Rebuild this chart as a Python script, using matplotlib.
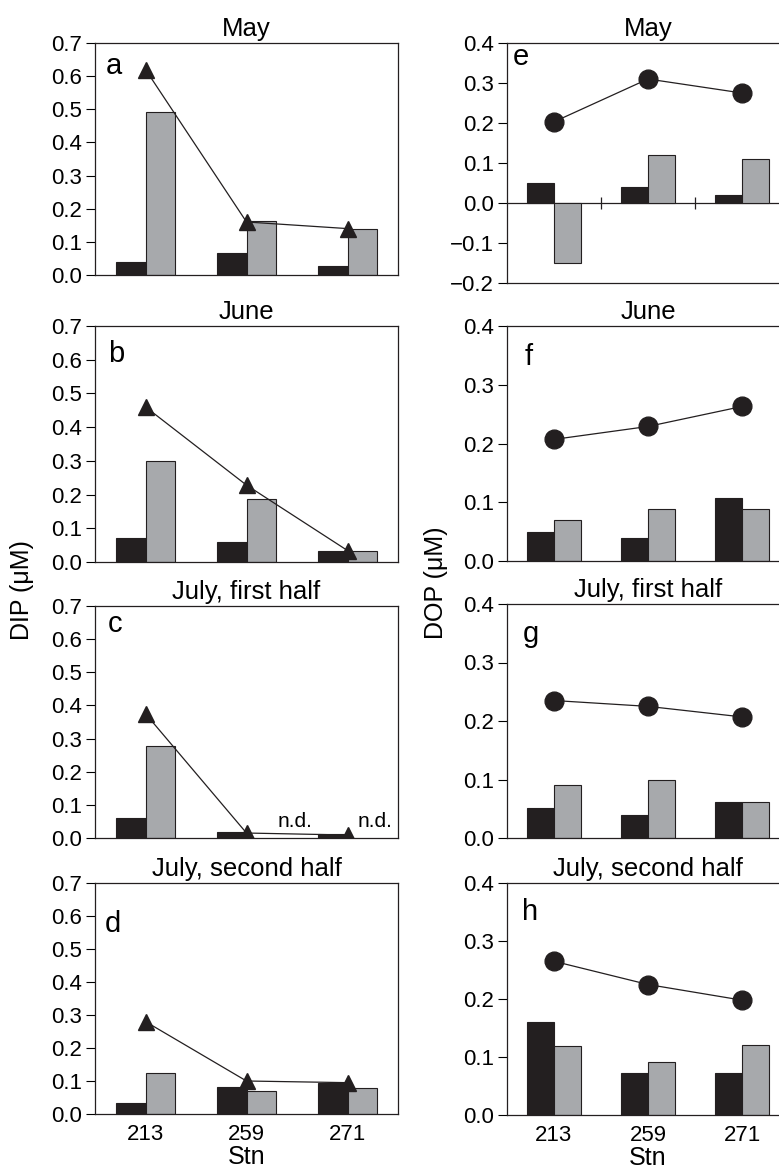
import matplotlib
matplotlib.use("Agg")
import matplotlib.pyplot as plt
import numpy as np

plt.rcParams['font.family'] = ['Liberation Sans', 'DejaVu Sans']

stations = ["213", "259", "271"]
titles = ["May", "June", "July, first half", "July, second half"]

# DIP panels a-d
dip_black = [[0.04, 0.067, 0.028],
             [0.072, 0.060, 0.034],
             [0.060, 0.018, 0.012],
             [0.033, 0.082, 0.094]]
dip_grey = [[0.493, 0.163, 0.139],
            [0.299, 0.188, 0.034],
            [0.278, np.nan, np.nan],
            [0.124, 0.070, 0.079]]
dip_tri = [[0.62, 0.16, 0.14],
           [0.46, 0.228, 0.034],
           [0.375, 0.015, 0.009],
           [0.28, 0.10, 0.095]]

# DOP panels e-h
dop_black = [[0.05, 0.04, 0.02],
             [0.05, 0.04, 0.107],
             [0.052, 0.040, 0.062],
             [0.160, 0.072, 0.072]]
dop_grey = [[-0.15, 0.12, 0.11],
            [0.07, 0.088, 0.089],
            [0.090, 0.100, 0.061],
            [0.119, 0.091, 0.120]]
dop_circ = [[0.203, 0.31, 0.275],
            [0.207, 0.229, 0.263],
            [0.235, 0.225, 0.207],
            [0.265, 0.225, 0.198]]

left_letters = ["a", "b", "c", "d"]
right_letters = ["e", "f", "g", "h"]

W, H = 779, 1172
fig = plt.figure(figsize=(W / 100, H / 100), dpi=100)

BLACK = "#231f20"
GREY = "#a7a9ac"

# pixel boxes (top, bottom)
left_boxes = [(43, 275), (326, 562), (606, 838), (883, 1114)]
right_boxes = [(43, 283), (326, 561), (604, 838), (883, 1115)]
left_x = (95, 398)
right_x = (507, 789)
left_letter_off = [(11, 31), (13, 36), (13, 26), (10, 49)]
right_letter_off = [(6, 22), (18, 39), (16, 38), (15, 37)]


def make_ax(xr, box):
    x0, x1 = xr
    t, b = box
    return fig.add_axes([x0 / W, 1 - b / H, (x1 - x0) / W, (b - t) / H])


x = np.arange(1, 4)
bw = 0.29
TICK_FS = 16
TITLE_FS = 18.5
LETTER_FS = 21
LABEL_FS = 18


def style_common(ax, i, letters, offs):
    ax.set_title(titles[i], fontsize=TITLE_FS, pad=5)
    ax.annotate(letters[i], xy=(0, 1), xycoords="axes fraction",
                xytext=(offs[i][0], -offs[i][1]), textcoords="offset pixels",
                fontsize=LETTER_FS, va="baseline", ha="left")
    if i == 3:
        ax.set_xticks(x)
        ax.set_xticklabels(stations)
        ax.tick_params(axis="x", length=0, pad=7, labelsize=TICK_FS)
        ax.set_xlabel("Stn", fontsize=LABEL_FS, labelpad=0)
    else:
        ax.set_xticks([])
    ax.tick_params(axis="y", direction="out", length=6.5, width=0.8, labelsize=TICK_FS, pad=3)
    for s in ax.spines.values():
        s.set_linewidth(0.9)
        s.set_color(BLACK)


for i in range(4):
    # ---- left DIP
    ax = make_ax(left_x, left_boxes[i])
    ax.bar(x - bw / 2, dip_black[i], width=bw, color=BLACK, edgecolor=BLACK, linewidth=0.8, zorder=2)
    ax.bar(x + bw / 2, dip_grey[i], width=bw, color=GREY, edgecolor=BLACK, linewidth=0.8, zorder=2)
    ax.plot(x, dip_tri[i], color=BLACK, lw=0.9, marker="^", markersize=11.5, zorder=3)
    ax.set_xlim(0.5, 3.5)
    ax.set_ylim(0, 0.7)
    yt = np.arange(0, 0.71, 0.1)
    ax.set_yticks(yt)
    ax.set_yticklabels([f"{v:.1f}" for v in yt])
    if i == 2:
        ax.text(2.48, 0.022, "n.d.", fontsize=15, ha="center", va="bottom")
        ax.text(3.27, 0.022, "n.d.", fontsize=15, ha="center", va="bottom")
    style_common(ax, i, left_letters, left_letter_off)

    # ---- right DOP
    ax = make_ax(right_x, right_boxes[i])
    ax.bar(x - bw / 2, dop_black[i], width=bw, color=BLACK, edgecolor=BLACK, linewidth=0.8, zorder=2)
    ax.bar(x + bw / 2, dop_grey[i], width=bw, color=GREY, edgecolor=BLACK, linewidth=0.8, zorder=2)
    ax.plot(x, dop_circ[i], color=BLACK, lw=0.9, marker="o", markersize=13.5, zorder=3)
    ax.set_xlim(0.5, 3.5)
    if i == 0:
        ax.set_ylim(-0.2, 0.4)
        yt = np.arange(-0.2, 0.41, 0.1)
        ax.axhline(0, color=BLACK, lw=0.9, zorder=1)
        ax.plot(x[:-1] + 0.5, [0, 0], ls="none", marker="|", markersize=9,
                markeredgewidth=0.9, color=BLACK, zorder=1)
    else:
        ax.set_ylim(0, 0.4)
        yt = np.arange(0, 0.41, 0.1)
    ax.set_yticks(yt)
    ax.set_yticklabels([f"{v:.1f}".replace("-", "\u2212") if abs(v) > 1e-9 else "0.0" for v in yt])
    style_common(ax, i, right_letters, right_letter_off)
    ax.spines["right"].set_visible(False)

fig.text(22 / W, 1 - 590 / H, "DIP (\u03bcM)", rotation=90, fontsize=LABEL_FS, ha="center", va="center")
fig.text(436 / W, 1 - 583 / H, "DOP (\u03bcM)", rotation=90, fontsize=LABEL_FS, ha="center", va="center")

fig.savefig("out.png", dpi=100)
